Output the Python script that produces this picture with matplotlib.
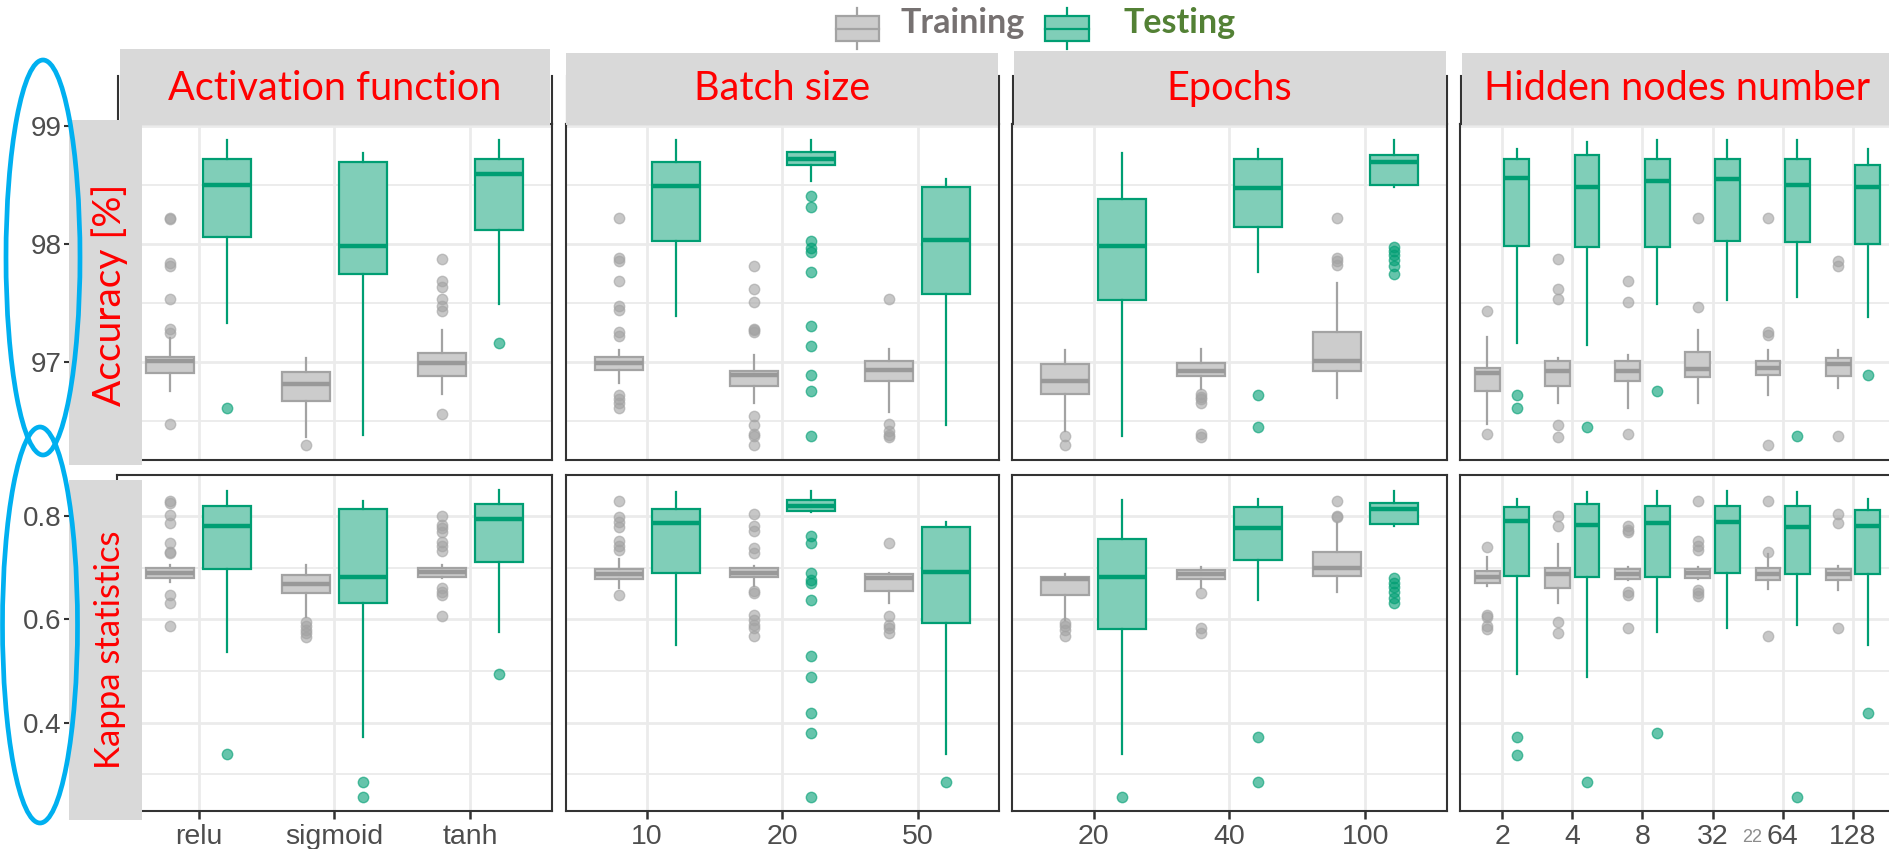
import matplotlib
matplotlib.use("Agg")
import matplotlib.pyplot as plt
from matplotlib.patches import Rectangle, Ellipse
from matplotlib.lines import Line2D

plt.rcParams['font.family'] = ['Liberation Sans', 'DejaVu Sans']

# ---- data: box stats are [whislo, q1, med, q3, whishi] ----
act_labels = ["relu", "sigmoid", "tanh"]
act_acc_train = [[96.75, 96.90, 97.01, 97.04, 97.20],
                 [96.36, 96.67, 96.81, 96.91, 97.03],
                 [96.73, 96.88, 96.99, 97.07, 97.27]]
act_acc_train_out = [[98.22, 98.21, 97.84, 97.81, 97.53, 97.28, 97.24, 96.47],
                     [96.29],
                     [97.87, 97.68, 97.63, 97.53, 97.47, 97.43, 96.56]]
act_acc_test = [[97.33, 98.06, 98.50, 98.72, 98.88],
                [96.38, 97.74, 97.98, 98.69, 98.77],
                [97.49, 98.12, 98.59, 98.72, 98.88]]
act_acc_test_out = [[96.61], [], [97.16]]
act_kap_train = [[0.672, 0.679, 0.689, 0.699, 0.705],
                 [0.605, 0.650, 0.668, 0.686, 0.704],
                 [0.680, 0.682, 0.692, 0.700, 0.704]]
act_kap_train_out = [[0.829, 0.825, 0.802, 0.787, 0.748, 0.731, 0.728, 0.647, 0.631, 0.587],
                     [0.595, 0.586, 0.579, 0.573, 0.566],
                     [0.800, 0.783, 0.776, 0.768, 0.750, 0.741, 0.732, 0.660, 0.653, 0.647, 0.606]]
act_kap_test = [[0.536, 0.697, 0.781, 0.820, 0.848],
                [0.373, 0.632, 0.682, 0.813, 0.829],
                [0.575, 0.710, 0.794, 0.823, 0.850]]
act_kap_test_out = [[0.339], [0.286, 0.257], [0.494]]

batch_labels = ["10", "20", "50"]
batch_acc_train = [[96.82, 96.93, 96.99, 97.04, 97.10],
                   [96.65, 96.79, 96.89, 96.92, 97.06],
                   [96.57, 96.84, 96.93, 97.01, 97.11]]
batch_acc_train_out = [[98.22, 97.88, 97.85, 97.68, 97.47, 97.44, 97.25, 97.22, 96.72, 96.68, 96.65, 96.61],
                       [97.81, 97.62, 97.51, 97.28, 97.27, 97.25, 96.54, 96.46, 96.39, 96.37, 96.29],
                       [97.53, 96.47, 96.41, 96.38, 96.36]]
batch_acc_test = [[97.39, 98.02, 98.49, 98.69, 98.88],
                  [98.53, 98.67, 98.72, 98.78, 98.88],
                  [96.46, 97.57, 98.03, 98.48, 98.55]]
batch_acc_test_out = [[],
                      [98.40, 98.31, 98.02, 97.96, 97.93, 97.76, 97.30, 97.13, 96.89, 96.75, 96.37],
                      []]
batch_kap_train = [[0.660, 0.678, 0.688, 0.697, 0.716],
                   [0.664, 0.681, 0.690, 0.700, 0.703],
                   [0.632, 0.655, 0.679, 0.687, 0.690]]
batch_kap_train_out = [[0.829, 0.797, 0.789, 0.779, 0.752, 0.742, 0.734, 0.647],
                       [0.804, 0.781, 0.770, 0.737, 0.729, 0.655, 0.650, 0.608, 0.599, 0.589, 0.583, 0.568],
                       [0.748, 0.606, 0.589, 0.583, 0.574]]
batch_kap_test = [[0.550, 0.689, 0.787, 0.813, 0.847],
                  [0.808, 0.810, 0.820, 0.830, 0.849],
                  [0.339, 0.592, 0.691, 0.779, 0.789]]
batch_kap_test_out = [[],
                      [0.761, 0.747, 0.689, 0.676, 0.671, 0.637, 0.529, 0.488, 0.419, 0.379, 0.257],
                      [0.286]]

epoch_labels = ["20", "40", "100"]
epoch_acc_train = [[96.41, 96.73, 96.84, 96.98, 97.10],
                   [96.77, 96.88, 96.92, 96.99, 97.11],
                   [96.69, 96.92, 97.01, 97.25, 97.67]]
epoch_acc_train_out = [[96.37, 96.29],
                       [96.73, 96.70, 96.68, 96.65, 96.39, 96.36],
                       [98.22, 97.88, 97.85, 97.82]]
epoch_acc_test = [[96.37, 97.52, 97.98, 98.38, 98.77],
                  [97.76, 98.14, 98.47, 98.72, 98.80],
                  [98.48, 98.50, 98.69, 98.75, 98.88]]
epoch_acc_test_out = [[], [96.72, 96.45],
                      [97.97, 97.94, 97.90, 97.86, 97.81, 97.74]]
epoch_kap_train = [[0.599, 0.647, 0.678, 0.682, 0.688],
                   [0.660, 0.678, 0.687, 0.695, 0.702],
                   [0.652, 0.684, 0.699, 0.730, 0.786]]
epoch_kap_train_out = [[0.593, 0.586, 0.579, 0.568],
                       [0.650, 0.583, 0.573],
                       [0.829, 0.800, 0.798]]
epoch_kap_test = [[0.339, 0.581, 0.682, 0.755, 0.830],
                  [0.637, 0.715, 0.776, 0.818, 0.832],
                  [0.781, 0.784, 0.814, 0.825, 0.849]]
epoch_kap_test_out = [[0.257], [0.372, 0.286],
                      [0.679, 0.671, 0.662, 0.652, 0.642, 0.631]]

hidden_labels = ["2", "4", "8", "32", "64", "128"]
hidden_acc_train = [[96.47, 96.75, 96.90, 96.95, 97.21],
                    [96.65, 96.79, 96.92, 97.01, 97.03],
                    [96.61, 96.84, 96.92, 97.01, 97.06],
                    [96.65, 96.87, 96.94, 97.08, 97.27],
                    [96.72, 96.89, 96.95, 97.01, 97.10],
                    [96.78, 96.88, 96.98, 97.03, 97.10]]
hidden_acc_train_out = [[97.43, 96.39],
                        [97.87, 97.62, 97.53, 96.46, 96.36],
                        [97.68, 97.51, 96.39],
                        [98.22, 97.46],
                        [98.22, 97.25, 97.23, 96.29],
                        [97.85, 97.81, 96.37]]
hidden_acc_test = [[97.16, 97.98, 98.56, 98.72, 98.80],
                   [97.14, 97.97, 98.48, 98.75, 98.86],
                   [97.49, 97.97, 98.53, 98.72, 98.88],
                   [97.52, 98.02, 98.55, 98.72, 98.88],
                   [97.55, 98.01, 98.50, 98.72, 98.88],
                   [97.38, 98.00, 98.48, 98.67, 98.80]]
hidden_acc_test_out = [[96.72, 96.61], [96.45], [96.75], [], [96.37], [96.89]]
hidden_kap_train = [[0.664, 0.671, 0.682, 0.694, 0.721],
                    [0.632, 0.661, 0.687, 0.699, 0.746],
                    [0.676, 0.677, 0.687, 0.697, 0.702],
                    [0.677, 0.679, 0.689, 0.697, 0.702],
                    [0.658, 0.676, 0.687, 0.699, 0.726],
                    [0.657, 0.676, 0.687, 0.697, 0.703]]
hidden_kap_train_out = [[0.739, 0.608, 0.605, 0.586, 0.581],
                        [0.799, 0.781, 0.595, 0.574],
                        [0.781, 0.773, 0.768, 0.653, 0.647, 0.583],
                        [0.829, 0.752, 0.742, 0.734, 0.657, 0.650, 0.645],
                        [0.828, 0.731, 0.568],
                        [0.804, 0.787, 0.584]]
hidden_kap_test = [[0.494, 0.684, 0.790, 0.818, 0.833],
                   [0.488, 0.681, 0.783, 0.823, 0.846],
                   [0.576, 0.681, 0.786, 0.820, 0.849],
                   [0.583, 0.690, 0.789, 0.820, 0.848],
                   [0.589, 0.687, 0.779, 0.820, 0.846],
                   [0.550, 0.687, 0.781, 0.812, 0.833]]
hidden_kap_test_out = [[0.373, 0.337], [0.286], [0.379], [], [0.257], [0.419]]

panel_titles = ["Activation function", "Batch size", "Epochs", "Hidden nodes number"]
row_titles = ["Accuracy [%]", "Kappa statistics"]

panels = [
    (act_labels, [(act_acc_train, act_acc_train_out, act_acc_test, act_acc_test_out),
                  (act_kap_train, act_kap_train_out, act_kap_test, act_kap_test_out)]),
    (batch_labels, [(batch_acc_train, batch_acc_train_out, batch_acc_test, batch_acc_test_out),
                    (batch_kap_train, batch_kap_train_out, batch_kap_test, batch_kap_test_out)]),
    (epoch_labels, [(epoch_acc_train, epoch_acc_train_out, epoch_acc_test, epoch_acc_test_out),
                    (epoch_kap_train, epoch_kap_train_out, epoch_kap_test, epoch_kap_test_out)]),
    (hidden_labels, [(hidden_acc_train, hidden_acc_train_out, hidden_acc_test, hidden_acc_test_out),
                     (hidden_kap_train, hidden_kap_train_out, hidden_kap_test, hidden_kap_test_out)]),
]

# ---- layout in pixels ----
W, H = 1890, 849
fig = plt.figure(figsize=(W / 100, H / 100), dpi=100)


def fx(x):
    return x / W


def fy(y):
    return 1 - y / H


panel_x = [(117, 552), (566, 999), (1012, 1447), (1460, 1895)]
row_y = [(124, 460), (475, 810.5)]
ylims = [(96.167, 99.014), (0.230, 0.879)]
yticks = [[97, 98, 99], [0.4, 0.6, 0.8]]
ytick_labels = [["97", "98", "99"], ["0.4", "0.6", "0.8"]]
yminor = [[96.5, 97.5, 98.5], [0.3, 0.5, 0.7]]

TRAIN_FILL, TRAIN_EDGE, TRAIN_MED = '#CCCCCC', '#A3A3A3', '#999999'
TEST_FILL, TEST_EDGE = '#80CEB8', '#009E73'
GRID = '#EBEBEB'
DARK = '#333333'


def make_stats(boxes, outs):
    stats = []
    for b, o in zip(boxes, outs):
        stats.append(dict(whislo=b[0], q1=b[1], med=b[2], q3=b[3], whishi=b[4], fliers=o))
    return stats


def draw_boxes(ax, stats, pos, fill, edge, med):
    ax.bxp(stats, positions=pos, widths=0.355, patch_artist=True, showcaps=False,
           boxprops=dict(facecolor=fill, edgecolor=edge, linewidth=1.6),
           medianprops=dict(color=med, linewidth=3.2),
           whiskerprops=dict(color=edge, linewidth=1.6),
           flierprops=dict(marker='o', markersize=7.5, markerfacecolor=edge,
                           markeredgecolor=edge, alpha=0.6, linestyle='none'),
           manage_ticks=False, zorder=3)


for pi, (labels, rows) in enumerate(panels):
    x0, x1 = panel_x[pi]
    n = len(labels)
    xs = list(range(1, n + 1))
    for ri, (tr, tr_out, te, te_out) in enumerate(rows):
        y0, y1 = row_y[ri]
        ax = fig.add_axes([fx(x0), fy(y1), (x1 - x0) / W, (y1 - y0) / H])
        ax.set_xlim(0.4, n + 0.6)
        ax.set_ylim(*ylims[ri])

        for v in yminor[ri]:
            ax.axhline(v, color=GRID, lw=1.3, zorder=0)
        for v in yticks[ri]:
            ax.axhline(v, color=GRID, lw=2.0, zorder=0)
        for v in xs:
            ax.axvline(v, color=GRID, lw=2.0, zorder=0)

        draw_boxes(ax, make_stats(tr, tr_out), [x - 0.21 for x in xs],
                   TRAIN_FILL, TRAIN_EDGE, TRAIN_MED)
        draw_boxes(ax, make_stats(te, te_out), [x + 0.21 for x in xs],
                   TEST_FILL, TEST_EDGE, TEST_EDGE)

        for s in ax.spines.values():
            s.set_color(DARK)
            s.set_linewidth(1.5)

        ax.set_yticks(yticks[ri])
        if pi == 0:
            ax.set_yticklabels(ytick_labels[ri])
            ax.tick_params(axis='y', length=38, width=1.5, color=DARK, pad=2,
                           labelsize=20, labelcolor='#4D4D4D')
        else:
            ax.tick_params(axis='y', length=0, labelleft=False)

        ax.set_xticks(xs)
        if ri == 1:
            ax.set_xticklabels(labels)
            ax.tick_params(axis='x', length=6, width=1.8, color=DARK, pad=4,
                           labelsize=20.5, labelcolor='#4D4D4D')
        else:
            ax.tick_params(axis='x', length=0, labelbottom=False)

# ---- facet strips ----
strip_boxes = [(120, 550, 49), (566, 998, 53), (1014, 1446, 51), (1462, 1890, 53)]
for pi, (sx0, sx1, sy0) in enumerate(strip_boxes):
    px0, px1 = panel_x[pi]
    for xv in (px0 + 1, px1):
        fig.add_artist(Line2D([fx(xv), fx(xv)], [fy(76), fy(124)], color=DARK,
                              lw=1.5, zorder=9))
    fig.add_artist(Rectangle((fx(sx0), fy(125)), (sx1 - sx0) / W, (125 - sy0) / H,
                             transform=fig.transFigure, facecolor='#D9D9D9',
                             edgecolor='none', zorder=10))
    fig.text(fx((px0 + px1) / 2), fy(100), panel_titles[pi], color='red',
             family='Lato', fontsize=28.5, ha='center', va='baseline', zorder=11)

# ---- row labels ----
row_label_boxes = [(120, 465), (480, 820)]
row_label_y = [295, 650]
row_label_size = [28, 25]
for ri, (ly0, ly1) in enumerate(row_label_boxes):
    fig.add_artist(Rectangle((fx(69), fy(ly1)), 73 / W, (ly1 - ly0) / H,
                             transform=fig.transFigure, facecolor='#D9D9D9',
                             edgecolor='none', zorder=10))
    fig.text(fx(110), fy(row_label_y[ri]), row_titles[ri], color='red', family='Lato',
             fontsize=row_label_size[ri], rotation=90, ha='center', va='center', zorder=11)

# ---- ellipses around the y axes ----
for cx, cy, ew, eh in [(43, 257.5, 74, 395), (40, 625, 75, 396)]:
    fig.add_artist(Ellipse((fx(cx), fy(cy)), ew / W, eh / H, transform=fig.transFigure,
                           fill=False, edgecolor='#00B0F0', lw=3.4, zorder=12))

# ---- legend ----
legend_items = [(836, 879, "Training", 901, '#767171', TRAIN_FILL, TRAIN_EDGE),
                (1045, 1089, "Testing", 1124, '#538135', TEST_FILL, TEST_EDGE)]
for bx0, bx1, label, tx, tcol, fill, edge in legend_items:
    cx = (bx0 + bx1) / 2
    fig.add_artist(Line2D([fx(cx), fx(cx)], [fy(8), fy(49)], color=edge, lw=1.6, zorder=11))
    fig.add_artist(Rectangle((fx(bx0), fy(41)), (bx1 - bx0) / W, 25 / H,
                             transform=fig.transFigure, facecolor=fill,
                             edgecolor=edge, lw=1.6, zorder=12))
    fig.add_artist(Line2D([fx(bx0), fx(bx1)], [fy(28.5), fy(28.5)], color=edge, lw=1.6, zorder=13))
    fig.text(fx(tx), fy(33), label, color=tcol, family='Lato', weight='bold',
             fontsize=24.5, ha='left', va='baseline')

fig.text(fx(1762), fy(837), "22", color='#8C8C8C', fontsize=13, ha='right', va='center')

fig.savefig("out.png", dpi=100)
